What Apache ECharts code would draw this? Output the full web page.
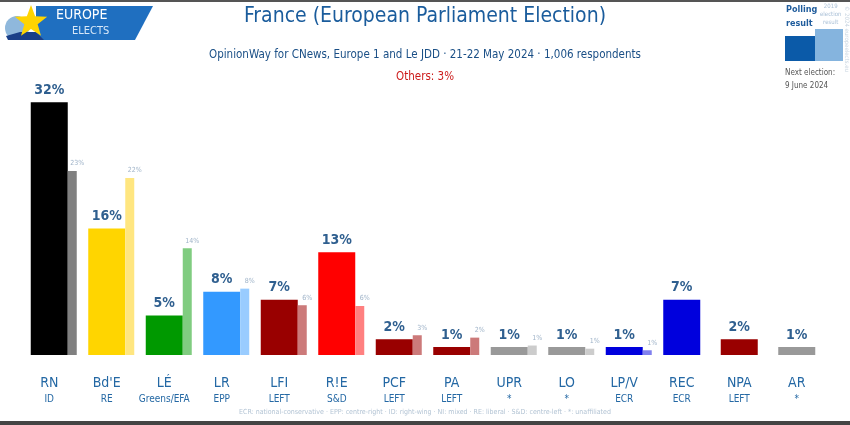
<!DOCTYPE html>
<html><head><meta charset="utf-8">
<script src="https://cdn.jsdelivr.net/npm/echarts@6/dist/echarts.min.js"></script>
<style>html,body{margin:0;padding:0;background:#fff}#c{width:850px;height:425px}</style>
</head><body><div id="c"></div>
<script>
const parties = ['RN', "Bd'E", 'LÉ', 'LR', 'LFI', "R!E", 'PCF', 'PA', 'UPR', 'LO', 'LP/V', 'REC', 'NPA', 'AR'];
const groups = ['ID', 'RE', 'Greens/EFA', 'EPP', 'LEFT', 'S&D', 'LEFT', 'LEFT', '*', '*', 'ECR', 'ECR', 'LEFT', '*'];
const polling = [32, 16, 5, 8, 7, 13, 2, 1, 1, 1, 1, 7, 2, 1];
const result2019 = [23.3, 22.4, 13.5, 8.4, 6.3, 6.2, 2.5, 2.2, 1.2, 0.8, 0.6, null, null, null];
const pollColors = ['#000000', '#FFD500', '#009900', '#3399FF', '#990000', '#FF0000', '#990000', '#990000', '#999999', '#999999', '#0000DD', '#0000DD', '#990000', '#999999'];
const resultColors = ['#808080', '#FFE680', '#80CC80', '#99CCFF', '#CC7A7A', '#FF8080', '#CC7A7A', '#CC7A7A', '#CCCCCC', '#CCCCCC', '#8080EE', '#8080EE', '#CC8080', '#CCCCCC'];

const FONT = '"Liberation Sans Narrow", "DejaVu Sans Condensed", sans-serif';
const chart = echarts.init(document.getElementById('c'), null, {renderer: 'canvas'});

function star(cx, cy, ro, ri) {
  const pts = [];
  for (let k = 0; k < 10; k++) {
    const r = k % 2 === 0 ? ro : ri;
    const a = -Math.PI / 2 + k * Math.PI / 5;
    pts.push([cx + r * Math.cos(a), cy + r * Math.sin(a)]);
  }
  return pts;
}

chart.setOption({
  backgroundColor: '#ffffff',
  animation: false,
  textStyle: {fontFamily: FONT},
  grid: {left: 25, right: 20, top: 39, bottom: 70},
  xAxis: {
    type: 'category', data: parties,
    axisLine: {show: false}, axisTick: {show: false},
    axisLabel: {
      interval: 0, margin: 20, padding: [0, 9, 0, 0],
      formatter: (v, i) => '{a|' + v + '}\n{b|' + groups[i] + '}',
      rich: {
        a: {fontFamily: FONT, fontSize: 14, color: '#2468a4', lineHeight: 17},
        b: {fontFamily: FONT, fontSize: 10, color: '#2468a4', lineHeight: 14}
      }
    }
  },
  yAxis: {type: 'value', min: 0, max: 40, show: false, splitLine: {show: false}},
  series: [
    {
      name: 'Polling result', type: 'bar', data: polling, barWidth: 37, barGap: 0,
      itemStyle: {color: p => pollColors[p.dataIndex]},
      label: {show: true, position: 'top', distance: 5, formatter: p => p.value + '%',
        fontFamily: FONT, fontSize: 14, fontWeight: 'bold', color: '#2f5f8f'}
    },
    {
      name: '2019 election result', type: 'bar', data: result2019, barWidth: 9, barGap: 0,
      itemStyle: {color: p => resultColors[p.dataIndex]},
      label: {show: true, position: 'top', distance: 4, offset: [5, 0],
        formatter: p => (p.value == null ? '' : Math.round(p.value) + '%'),
        fontFamily: FONT, fontSize: 7, color: '#9fb3c8'}
    }
  ],
  graphic: [
    {type: 'rect', shape: {x: 0, y: 0, width: 850, height: 2}, style: {fill: '#555'}},
    {type: 'rect', shape: {x: 0, y: 421, width: 850, height: 4}, style: {fill: '#444'}},
    // logo
    {type: 'polygon', shape: {points: [[36, 6], [153, 6], [135, 40], [36, 40]]}, style: {fill: '#1f6fc0'}},
    {type: 'circle', shape: {cx: 17, cy: 28, r: 12}, style: {fill: '#8fb8dc'}},
    {type: 'polygon', shape: {points: [[6, 36], [20, 32], [36, 32], [44, 40], [8, 40]]}, style: {fill: '#1a3f88'}},
    {type: 'polygon', shape: {points: star(31, 22, 17, 7)}, style: {fill: '#FFD400'}},
    {type: 'text', left: 56, top: 8, style: {text: 'EUROPE', fill: '#ffffff', font: '14px ' + FONT}},
    {type: 'text', left: 72, top: 26, style: {text: 'ELECTS', fill: '#d8e8f8', font: '11px ' + FONT}},
    // titles
    {type: 'text', left: 'center', top: 6, style: {text: 'France (European Parliament Election)', fill: '#1a5c9c', font: '21px ' + FONT, textAlign: 'center'}},
    {type: 'text', left: 'center', top: 49, style: {text: 'OpinionWay for CNews, Europe 1 and Le JDD · 21-22 May 2024 · 1,006 respondents', fill: '#1a4f86', font: '11.5px ' + FONT, textAlign: 'center'}},
    {type: 'text', left: 'center', top: 71, style: {text: 'Others: 3%', fill: '#cc1b1b', font: '11.5px ' + FONT, textAlign: 'center'}},
    // legend
    {type: 'text', left: 786, top: 3, style: {text: 'Polling\nresult', fill: '#1f5c9c', font: 'bold 9px ' + FONT, lineHeight: 14}},
    {type: 'text', left: 820, top: 2, style: {text: '2019\nelection\nresult', fill: '#a8bfd6', font: '6px ' + FONT, lineHeight: 8, textAlign: 'center', x: 9}},
    {type: 'rect', shape: {x: 785, y: 36, width: 30, height: 25}, style: {fill: '#0b5aa8'}},
    {type: 'rect', shape: {x: 815, y: 29, width: 28, height: 32}, style: {fill: '#85b4de'}},
    {type: 'text', left: 785, top: 66, style: {text: 'Next election:\n9 June 2024', fill: '#555', font: '8px ' + FONT, lineHeight: 13}},
    {type: 'text', left: 844, top: 6, rotation: -Math.PI / 2, style: {text: '© 2024 europeelects.eu', fill: '#c8d4e0', font: '6px ' + FONT}},
    // footer
    {type: 'text', left: 'center', top: 409, style: {text: 'ECR: national-conservative · EPP: centre-right · ID: right-wing · NI: mixed · RE: liberal · S&D: centre-left · *: unaffiliated', fill: '#b3c4d4', font: '7px ' + FONT, textAlign: 'center'}}
  ]
});
</script></body></html>
